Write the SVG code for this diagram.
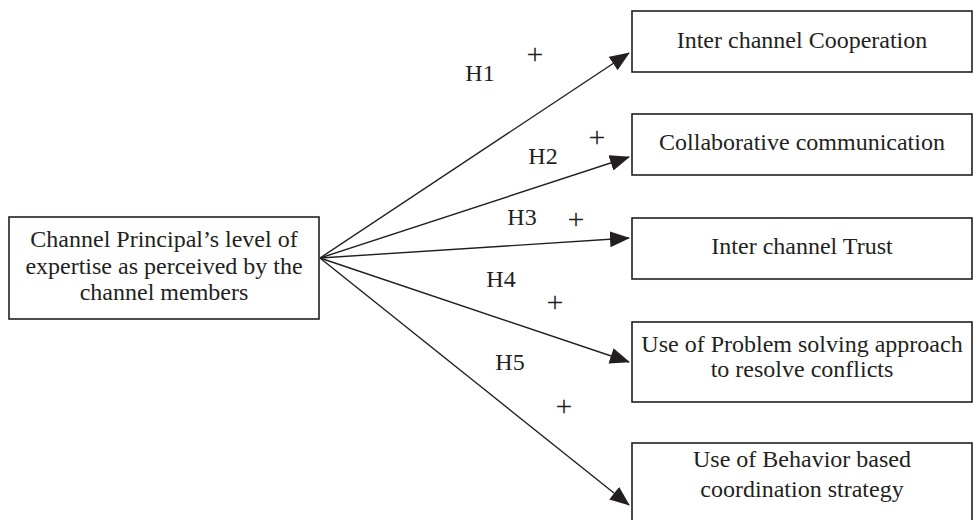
<svg xmlns="http://www.w3.org/2000/svg" width="973" height="520" viewBox="0 0 973 520">
<style>
.box{fill:#fff;stroke:#231f20;stroke-width:1.6}
.t{font-family:"Liberation Serif","Times New Roman",serif;font-size:24px;fill:#231f20;text-anchor:middle}
.p{font-family:"Liberation Serif","Times New Roman",serif;font-size:30px;fill:#231f20;text-anchor:middle}
.c{stroke:#231f20;stroke-width:1.4;fill:none;marker-end:url(#ah)}
</style>
<defs>
<marker id="ah" markerUnits="userSpaceOnUse" markerWidth="20" markerHeight="16" refX="19" refY="8" orient="auto" viewBox="0 0 20 16">
<path d="M0,0 L20,8 L0,16 Z" fill="#231f20"/>
</marker>
</defs>
<rect width="973" height="520" fill="#fff"/>
<g id="connectors">
<line class="c" x1="320" y1="258" x2="629" y2="53"/>
<line class="c" x1="320" y1="258" x2="629" y2="157"/>
<line class="c" x1="320" y1="258" x2="629" y2="238"/>
<line class="c" x1="320" y1="258" x2="629" y2="362"/>
<line class="c" x1="320" y1="258" x2="629" y2="505"/>
<text class="t" x="480" y="81">H1</text>
<text class="p" x="535" y="64">+</text>
<text class="t" x="543" y="164">H2</text>
<text class="p" x="597" y="147">+</text>
<text class="t" x="522" y="225">H3</text>
<text class="p" x="576" y="229">+</text>
<text class="t" x="501" y="287">H4</text>
<text class="p" x="555" y="312">+</text>
<text class="t" x="510" y="370">H5</text>
<text class="p" x="564" y="416">+</text>
</g>
<g id="source">
<rect class="box" x="9" y="217" width="310" height="102"/>
<text class="t" x="164" y="247">Channel Principal’s level of</text>
<text class="t" x="164" y="274">expertise as perceived by the</text>
<text class="t" x="164" y="300">channel members</text>
</g>
<g id="cooperation">
<rect class="box" x="632" y="11" width="340" height="61"/>
<text class="t" x="802" y="48">Inter channel Cooperation</text>
</g>
<g id="communication">
<rect class="box" x="632" y="114" width="340" height="61"/>
<text class="t" x="802" y="150">Collaborative communication</text>
</g>
<g id="trust">
<rect class="box" x="632" y="218" width="340" height="61"/>
<text class="t" x="802" y="254">Inter channel Trust</text>
</g>
<g id="problem-solving">
<rect class="box" x="632" y="322" width="340" height="80"/>
<text class="t" x="802" y="352">Use of Problem solving approach</text>
<text class="t" x="802" y="377">to resolve conflicts</text>
</g>
<g id="behavior">
<rect class="box" x="632" y="443" width="340" height="100"/>
<text class="t" x="802" y="467">Use of Behavior based</text>
<text class="t" x="802" y="497">coordination strategy</text>
</g>
</svg>
